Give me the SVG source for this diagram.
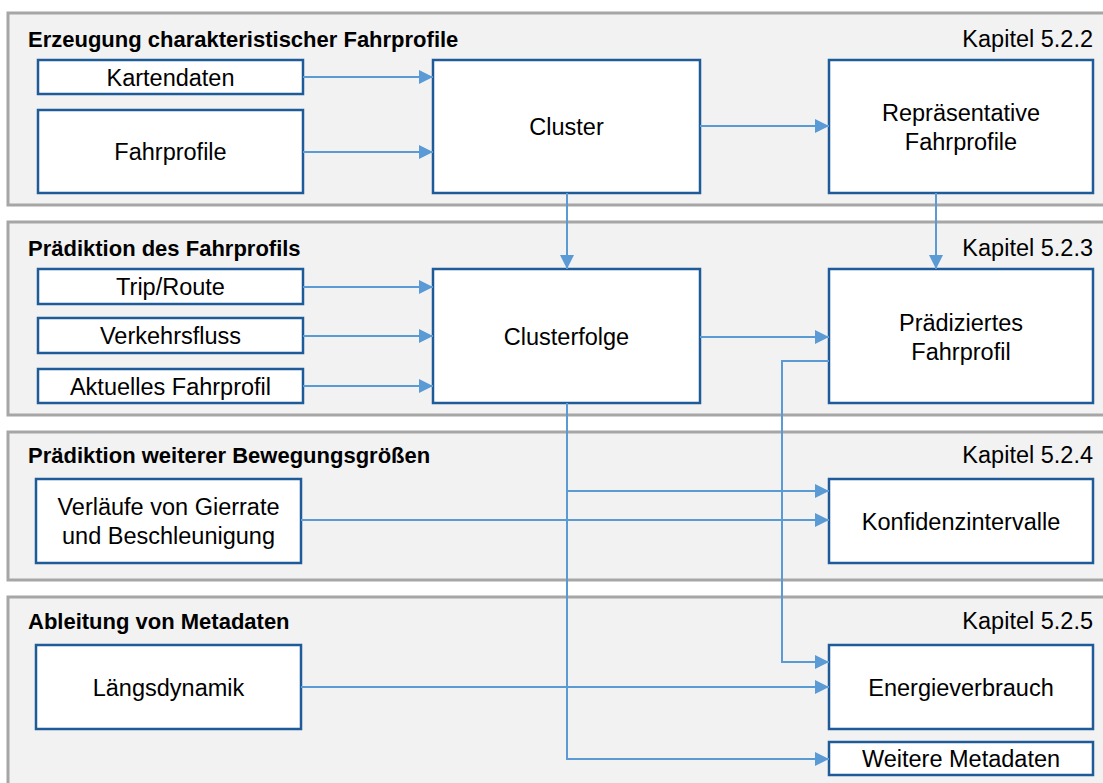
<svg xmlns="http://www.w3.org/2000/svg" width="1103" height="783" viewBox="0 0 1103 783">
  <style>
    .panel { fill: #F2F2F2; stroke: #A6A6A6; stroke-width: 3; }
    .node { fill: #FFFFFF; stroke: #1F5B98; stroke-width: 2.5; }
    .title { font-family: "Liberation Sans", Arial, sans-serif; font-size: 22px; font-weight: bold; fill: #000; }
    .chap { font-family: "Liberation Sans", Arial, sans-serif; font-size: 23.5px; fill: #000; text-anchor: end; }
    .label { font-family: "Liberation Sans", Arial, sans-serif; font-size: 23.5px; fill: #000; text-anchor: middle; }
    .conn { fill: none; stroke: #5B9BD5; stroke-width: 2; }
  </style>
  <defs>
    <marker id="arrow" markerUnits="userSpaceOnUse" markerWidth="15" markerHeight="14" refX="14" refY="7" orient="auto">
      <path d="M0,0 L14,7 L0,14 z" fill="#5B9BD5"/>
    </marker>
  </defs>

  <!-- Stage panels -->
  <g id="panel-erzeugung">
    <rect class="panel" x="8" y="13" width="1110" height="192"/>
    <text class="title" x="28" y="47">Erzeugung charakteristischer Fahrprofile</text>
    <text class="chap" x="1093" y="47">Kapitel 5.2.2</text>
  </g>
  <g id="panel-praediktion">
    <rect class="panel" x="8" y="222" width="1110" height="193"/>
    <text class="title" x="28" y="256">Prädiktion des Fahrprofils</text>
    <text class="chap" x="1093" y="256">Kapitel 5.2.3</text>
  </g>
  <g id="panel-bewegung">
    <rect class="panel" x="8" y="432" width="1110" height="148"/>
    <text class="title" x="28" y="463">Prädiktion weiterer Bewegungsgrößen</text>
    <text class="chap" x="1093" y="463">Kapitel 5.2.4</text>
  </g>
  <g id="panel-metadaten">
    <rect class="panel" x="8" y="597" width="1110" height="210"/>
    <text class="title" x="28" y="629">Ableitung von Metadaten</text>
    <text class="chap" x="1093" y="629">Kapitel 5.2.5</text>
  </g>

  <!-- Nodes -->
  <g id="kartendaten">
    <rect class="node" x="38" y="60" width="265" height="34"/>
    <text class="label" x="170.5" y="85.5">Kartendaten</text>
  </g>
  <g id="fahrprofile">
    <rect class="node" x="38" y="110" width="265" height="83"/>
    <text class="label" x="170.5" y="160">Fahrprofile</text>
  </g>
  <g id="cluster">
    <rect class="node" x="433" y="60" width="267" height="133"/>
    <text class="label" x="566.5" y="135">Cluster</text>
  </g>
  <g id="repraesentative-fahrprofile">
    <rect class="node" x="829" y="60" width="264" height="133"/>
    <text class="label" x="961" y="121">Repräsentative</text>
    <text class="label" x="961" y="150">Fahrprofile</text>
  </g>

  <g id="trip-route">
    <rect class="node" x="38" y="269" width="265" height="35"/>
    <text class="label" x="170.5" y="295">Trip/Route</text>
  </g>
  <g id="verkehrsfluss">
    <rect class="node" x="38" y="318" width="265" height="35"/>
    <text class="label" x="170.5" y="344">Verkehrsfluss</text>
  </g>
  <g id="aktuelles-fahrprofil">
    <rect class="node" x="38" y="369" width="265" height="34"/>
    <text class="label" x="170.5" y="394.5">Aktuelles Fahrprofil</text>
  </g>
  <g id="clusterfolge">
    <rect class="node" x="433" y="269" width="267" height="134"/>
    <text class="label" x="566.5" y="344.5">Clusterfolge</text>
  </g>
  <g id="praediziertes-fahrprofil">
    <rect class="node" x="829" y="269" width="264" height="134"/>
    <text class="label" x="961" y="331">Prädiziertes</text>
    <text class="label" x="961" y="360">Fahrprofil</text>
  </g>

  <g id="verlaeufe">
    <rect class="node" x="36" y="479" width="265" height="84"/>
    <text class="label" x="168.5" y="515">Verläufe von Gierrate</text>
    <text class="label" x="168.5" y="544">und Beschleunigung</text>
  </g>
  <g id="konfidenzintervalle">
    <rect class="node" x="829" y="479" width="264" height="84"/>
    <text class="label" x="961" y="529.5">Konfidenzintervalle</text>
  </g>

  <g id="laengsdynamik">
    <rect class="node" x="36" y="645" width="265" height="84"/>
    <text class="label" x="168.5" y="695.5">Längsdynamik</text>
  </g>
  <g id="energieverbrauch">
    <rect class="node" x="829" y="645" width="264" height="84"/>
    <text class="label" x="961" y="695.5">Energieverbrauch</text>
  </g>
  <g id="weitere-metadaten">
    <rect class="node" x="829" y="742" width="264" height="33"/>
    <text class="label" x="961" y="767">Weitere Metadaten</text>
  </g>

  <!-- Connectors -->
  <g id="connectors">
    <path class="conn" marker-end="url(#arrow)" d="M303,77 H433"/>
    <path class="conn" marker-end="url(#arrow)" d="M303,152 H433"/>
    <path class="conn" marker-end="url(#arrow)" d="M700,126 H829"/>
    <path class="conn" marker-end="url(#arrow)" d="M567,193 V269"/>
    <path class="conn" marker-end="url(#arrow)" d="M936,193 V269"/>
    <path class="conn" marker-end="url(#arrow)" d="M303,287 H433"/>
    <path class="conn" marker-end="url(#arrow)" d="M303,336 H433"/>
    <path class="conn" marker-end="url(#arrow)" d="M303,386 H433"/>
    <path class="conn" marker-end="url(#arrow)" d="M700,337 H829"/>
    <path class="conn" marker-end="url(#arrow)" d="M829,361 H782 V662 H829"/>
    <path class="conn" marker-end="url(#arrow)" d="M567,403 V491 H829"/>
    <path class="conn" marker-end="url(#arrow)" d="M567,491 V759 H829"/>
    <path class="conn" marker-end="url(#arrow)" d="M301,520 H829"/>
    <path class="conn" marker-end="url(#arrow)" d="M301,687 H829"/>
  </g>
</svg>
